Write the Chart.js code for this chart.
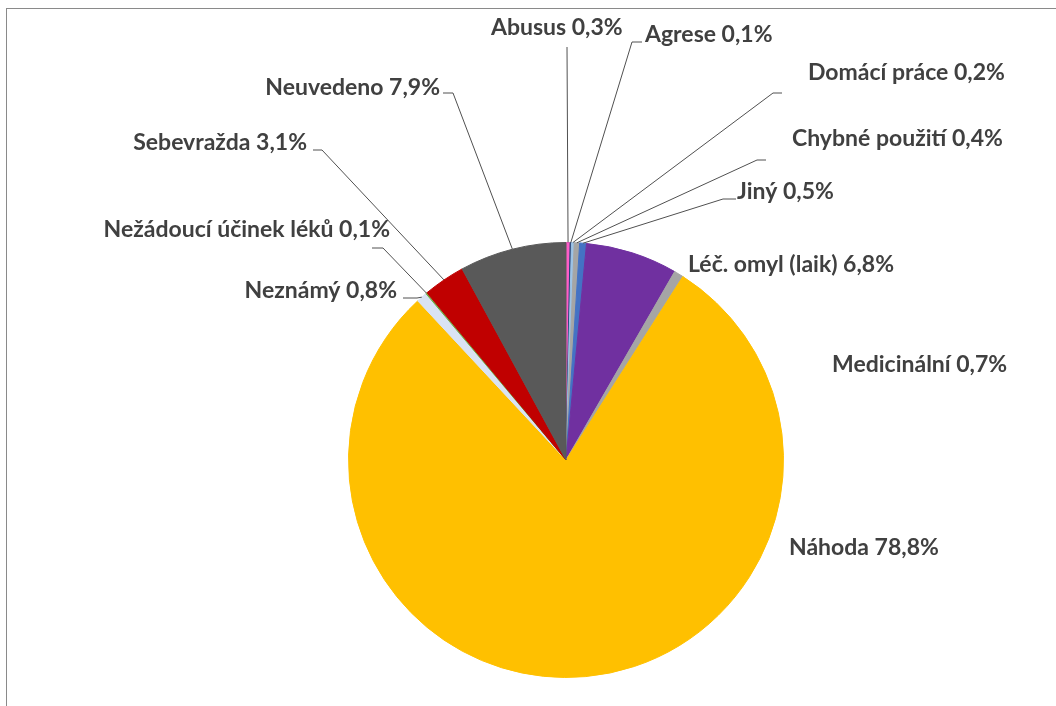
<!DOCTYPE html>
<html>
<head>
<meta charset="utf-8">
<script src="https://cdn.jsdelivr.net/npm/chart.js@4/dist/chart.umd.min.js"></script>
<style>
  html, body { margin: 0; padding: 0; background: #fff; }
  #wrap { position: relative; width: 1056px; height: 706px; }
  #frame { position: absolute; left: 6px; top: 8px; right: -2px; bottom: -2px;
           border-top: 1px solid #8a8a8a; border-left: 1px solid #8a8a8a; pointer-events: none; }
</style>
</head>
<body>
<div id="wrap">
  <canvas id="ch1" width="1056" height="706"></canvas>
  <div id="frame"></div>
</div>
<script>
// otravy podle okolností - podíly v %
var categories = ['Abusus', 'Agrese', 'Domácí práce', 'Chybné použití', 'Jiný',
  'Léč. omyl (laik)', 'Medicinální', 'Náhoda', 'Neznámý',
  'Nežádoucí účinek léků', 'Sebevražda', 'Neuvedeno'];
var shares = [0.3, 0.1, 0.2, 0.4, 0.5, 6.8, 0.7, 78.8, 0.8, 0.1, 3.1, 7.9];
var colors = ['#ff5ec8', '#264478', '#9dc3e6', '#a5a5a5', '#4472c4',
  '#7030a0', '#a5a5a5', '#ffc000', '#dae3f3', '#70ad47', '#c00000', '#595959'];

// umístění popisků vůči středu koláče: [x, y, zarovnání]
var labelPos = [
  [-75, -432, 'left'], [79, -425, 'left'], [242, -387, 'left'], [226, -321, 'left'],
  [171, -268, 'left'], [122, -195, 'left'], [266, -95, 'left'], [223, 88, 'left'],
  [-169, -169, 'right'], [-176, -230, 'right'], [-259, -317, 'right'], [-126, -372, 'right']
];
// vodicí čáry: [vzdálený x, blízký x, y], null = bez čáry
var leaders = [
  [1, 1, -413], [76, 66, -418], [216, 207, -367], [200, 191, -300],
  [170, 157, -261], null, null, null,
  [-163, -149, -162], [-194, -183, -212], [-253, -244, -310], [-123, -113, -367]
];

function fmt(v) {
  return v.toFixed(1).replace('.', ',') + '%';
}

var pieLabels = {
  id: 'pieLabels',
  afterDatasetsDraw: function(chart) {
    var ctx = chart.ctx;
    var arcs = chart.getDatasetMeta(0).data;
    ctx.save();
    arcs.forEach(function(arc, i) {
      var p = arc.getProps(['x', 'y', 'startAngle', 'endAngle', 'outerRadius'], true);
      var mid = (p.startAngle + p.endAngle) / 2;
      var ax = p.x + Math.cos(mid) * p.outerRadius;
      var ay = p.y + Math.sin(mid) * p.outerRadius;
      var ld = leaders[i];
      if (ld) {
        ctx.strokeStyle = '#505050';
        ctx.lineWidth = 1;
        ctx.beginPath();
        ctx.moveTo(p.x + ld[0], p.y + ld[2]);
        ctx.lineTo(p.x + ld[1], p.y + ld[2]);
        ctx.lineTo(ax, ay);
        ctx.stroke();
      }
      var lp = labelPos[i];
      ctx.fillStyle = '#404040';
      ctx.font = 'bold 23px Lato';
      ctx.textAlign = lp[2];
      ctx.textBaseline = 'middle';
      ctx.fillText(categories[i] + ' ' + fmt(shares[i]), p.x + lp[0], p.y + lp[1]);
    });
    ctx.restore();
  }
};

var ctx = document.getElementById('ch1').getContext('2d');
var myChart = new Chart(ctx, {
  type: 'pie',
  data: {
    labels: categories,
    datasets: [{
      data: shares,
      backgroundColor: colors,
      borderColor: colors,
      borderWidth: 1
    }]
  },
  options: {
    responsive: false,
    animation: false,
    layout: { padding: { left: 348, right: 272, top: 242, bottom: 28 } },
    plugins: {
      legend: { display: false },
      tooltip: { enabled: false }
    }
  },
  plugins: [pieLabels]
});
</script>
</body>
</html>
